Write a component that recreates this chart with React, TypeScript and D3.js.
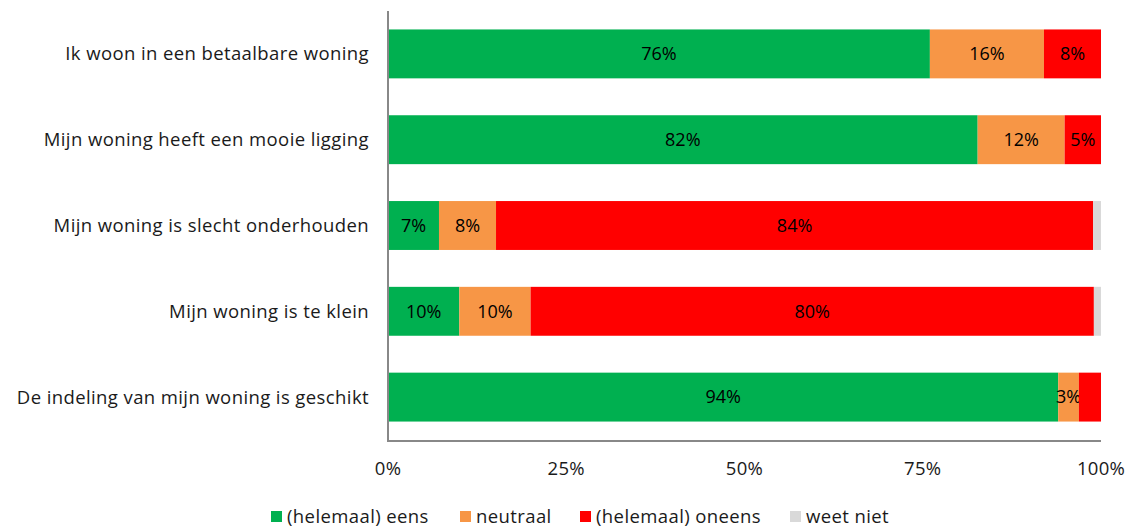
import React from "react";
import * as d3 from "d3";

const categories = [
  "Ik woon in een betaalbare woning",
  "Mijn woning heeft een mooie ligging",
  "Mijn woning is slecht onderhouden",
  "Mijn woning is te klein",
  "De indeling van mijn woning is geschikt",
];
const seriesNames = ["(helemaal) eens", "neutraal", "(helemaal) oneens", "weet niet"];
const eens = [76, 82.7, 7.15, 10, 94];
const neutraal = [16, 12.2, 8, 10, 2.9];
const oneens = [8, 5.1, 83.75, 79, 3.1];
const weetNiet = [0, 0, 1.1, 1, 0];
const labelsEens = ["76%", "82%", "7%", "10%", "94%"];
const labelsNeutraal = ["16%", "12%", "8%", "10%", "3%"];
const labelsOneens = ["8%", "5%", "84%", "80%", ""];
const colors = ["#00b050", "#f79646", "#ff0000", "#d9d9d9"];
const xTicks = [0, 25, 50, 75, 100];

const W = 1131, H = 530;
const left = 388, right = 1101, top = 11, bottom = 440;
const FONT = "'Open Sans', sans-serif";

export default function App() {
  const x = d3.scaleLinear().domain([0, 100]).range([left, right]);
  const y = d3.scaleBand().domain(categories).range([top, bottom]).paddingInner(0.43).paddingOuter(0.215);
  const series = [eens, neutraal, oneens, weetNiet];
  const labels = [labelsEens, labelsNeutraal, labelsOneens, categories.map(() => "")];
  const rows = categories.map((c, i) => ({ c, vals: series.map((s) => s[i]) }));
  const stack = d3.stack<any>().keys(["0", "1", "2", "3"]).value((d, k) => d.vals[+k])(rows);
  const legendX = [271, 460, 580, 790];

  return (
    <svg width={W} height={H} style={{ position: "absolute", left: 0, top: 0, fontFamily: FONT }}>
      {stack.map((layer, si) =>
        layer.map((seg, i) => {
          const x0 = x(seg[0]), x1 = x(seg[1]);
          const yy = y(categories[i])!;
          const bh = y.bandwidth();
          return (
            <g key={`${si}-${i}`}>
              {x1 - x0 > 0 && <rect x={x0} y={yy} width={x1 - x0} height={bh} fill={colors[si]} />}
              {labels[si][i] && (
                <text x={(x0 + x1) / 2} y={yy + bh / 2} dy="0.35em" textAnchor="middle" fontSize={18} fill="#000">
                  {labels[si][i]}
                </text>
              )}
            </g>
          );
        })
      )}
      <line x1={left} x2={left} y1={top} y2={bottom + 1} stroke="#888" strokeWidth={2} />
      <line x1={left - 1} x2={right} y1={bottom + 1} y2={bottom + 1} stroke="#888" strokeWidth={2} />
      {categories.map((c) => (
        <text key={c} x={369} y={y(c)! + y.bandwidth() / 2} dy="0.35em" textAnchor="end" fontSize={18.5} letterSpacing={0.4} fill="#1a1a1a">
          {c}
        </text>
      ))}
      {xTicks.map((t) => (
        <text key={t} x={x(t)} y={469} dy="0.35em" textAnchor="middle" fontSize={18.5} letterSpacing={0.3} fill="#1a1a1a">
          {t}%
        </text>
      ))}
      {seriesNames.map((n, i) => (
        <g key={n}>
          <rect x={legendX[i]} y={511} width={11} height={11} fill={colors[i]} />
          <text x={legendX[i] + 16} y={517} dy="0.35em" fontSize={18.5} letterSpacing={0.4} fill="#1a1a1a">
            {n}
          </text>
        </g>
      ))}
    </svg>
  );
}
